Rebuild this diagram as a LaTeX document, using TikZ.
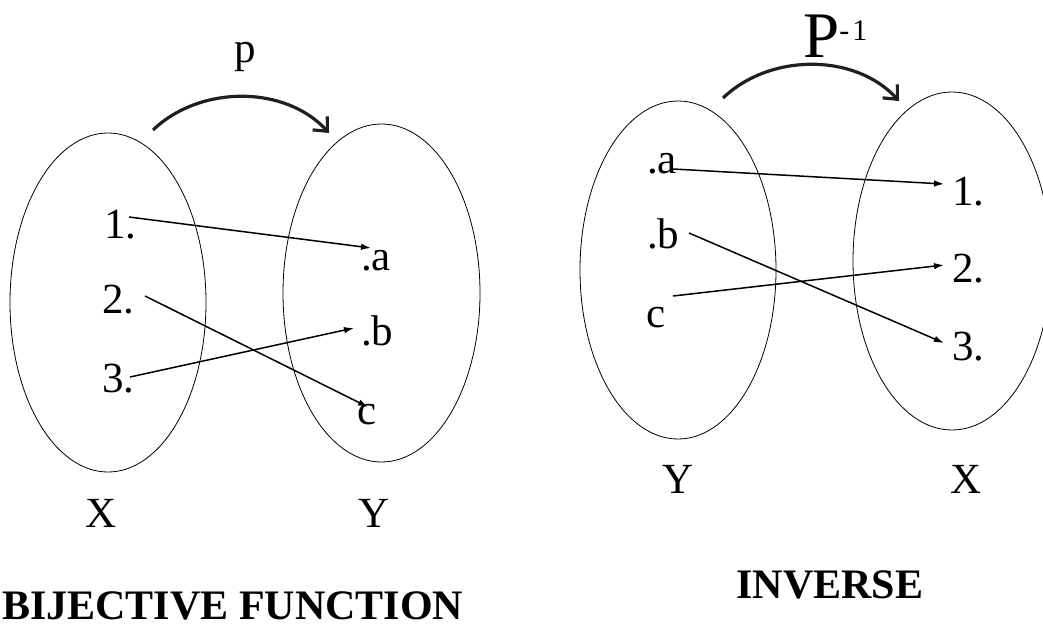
\documentclass[tikz,border=0pt]{standalone}
\usepackage{fontspec}
\setmainfont{Liberation Serif}
\usetikzlibrary{arrows.meta}
\begin{document}
\begin{tikzpicture}[x=1pt,y=-1pt,
  lbl/.style={inner sep=0pt, font=\fontsize{43}{50}\selectfont},
  ttl/.style={inner sep=0pt, font=\fontsize{42}{50}\selectfont\bfseries},
  setel/.style={draw, line width=0.8pt},
  conn/.style={line width=1.5pt, -{Latex[length=10pt,width=6.5pt]}},
  maparc/.style={line width=3.2pt, color=black!88, -{Straight Barb[length=11pt,width=20pt]}}
]
\useasboundingbox (0,0) rectangle (1043,626);
% ---------- left diagram: bijective function ----------
\draw[setel] (108,302.5) ellipse [x radius=98pt, y radius=169.5pt];
\draw[setel] (381.5,293) ellipse [x radius=98.5pt, y radius=169pt];

\node[lbl, anchor=base] (pl) at (245,63) {p};
\coordinate (ps) at (153,130);
\coordinate (pe) at (329,133);
\draw[maparc] (ps) .. controls (200,85) and (285,85) .. (pe);

\node[lbl, anchor=base west] (x1) at (104,238) {1.};
\node[lbl, anchor=base west] (x2) at (102,313) {2.};
\node[lbl, anchor=base west] (x3) at (102,392) {3.};
\node[lbl, anchor=base west] (ya) at (361,270) {.a};
\node[lbl, anchor=base west] (yb) at (361,345) {.b};
\node[lbl, anchor=base west] (yc) at (357,424) {c};
\node[lbl, anchor=base] (lX) at (101,527) {X};
\node[lbl, anchor=base] (lY) at (374,527) {Y};

\coordinate (s1) at (129,217);  \coordinate (e1) at (371,248);
\coordinate (s2) at (145,296);  \coordinate (e2) at (368,407);
\coordinate (s3) at (130,377);  \coordinate (e3) at (354,328);
\draw[conn] (s1) -- (e1);
\draw[conn] (s2) -- (e2);
\draw[conn] (s3) -- (e3);

\node[ttl, anchor=base west] (t1) at (2,619) {BIJECTIVE FUNCTION};

% ---------- right diagram: inverse ----------
\draw[setel] (678,270) ellipse [x radius=98pt, y radius=169pt];
\draw[setel] (952,261) ellipse [x radius=99pt, y radius=169pt];

\node[inner sep=0pt, anchor=base west] (pinv) at (803,57)
  {\fontsize{65}{72}\selectfont P\raisebox{17pt}{\fontsize{30}{34}\selectfont -\kern3pt 1}};
\coordinate (qs) at (723,98);
\coordinate (qe) at (899,101);
\draw[maparc] (qs) .. controls (770,53) and (855,53) .. (qe);

\node[lbl, anchor=base west] (ra) at (647,173) {.a};
\node[lbl, anchor=base west] (rb) at (647,248) {.b};
\node[lbl, anchor=base west] (rc) at (646,327) {c};
\node[lbl, anchor=base west] (r1) at (952,205) {1.};
\node[lbl, anchor=base west] (r2) at (952,282) {2.};
\node[lbl, anchor=base west] (r3) at (952,360) {3.};
\node[lbl, anchor=base] (rY) at (678,493) {Y};
\node[lbl, anchor=base] (rX) at (966,493) {X};

\coordinate (u1) at (673,169);  \coordinate (v1) at (944,184);
\coordinate (u2) at (689,233);  \coordinate (v2) at (944,343);
\coordinate (u3) at (673,296);  \coordinate (v3) at (944,265);
\draw[conn] (u1) -- (v1);
\draw[conn] (u2) -- (v2);
\draw[conn] (u3) -- (v3);

\node[ttl, anchor=base] (t2) at (830,598) {INVERSE};
\end{tikzpicture}
\end{document}
